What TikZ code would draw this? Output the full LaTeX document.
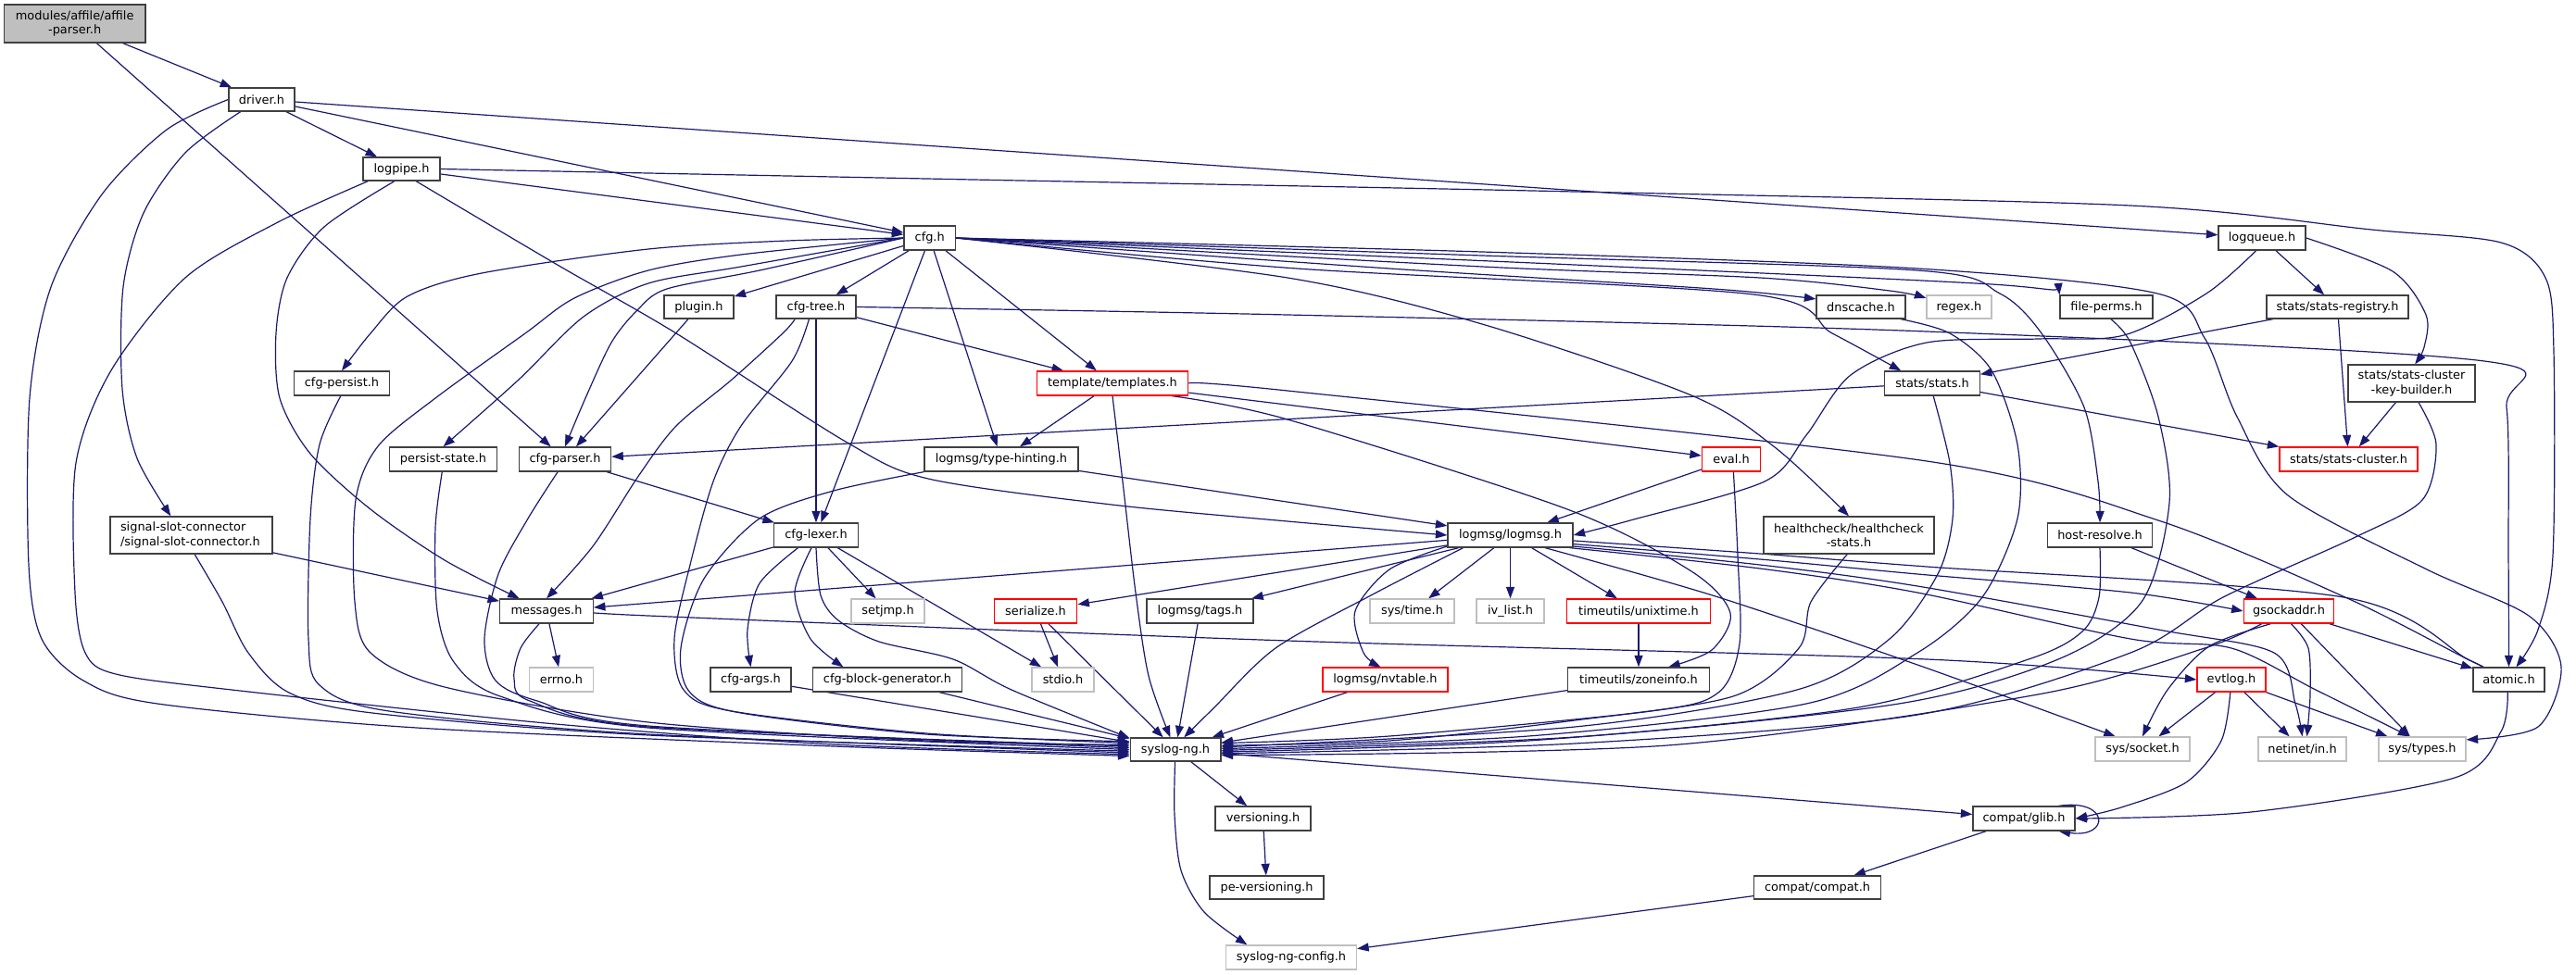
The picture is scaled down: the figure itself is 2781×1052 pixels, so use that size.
\documentclass[tikz,border=0pt]{standalone}
\usepackage{fontspec}
\newfontfamily\nf{DejaVu Sans}
\usetikzlibrary{arrows.meta}
\pgfdeclarelayer{bg}
\pgfsetlayers{bg,main}
\definecolor{edgec}{HTML}{191970}
\definecolor{bdr}{HTML}{404040}
\definecolor{gbdr}{HTML}{BFBFBF}
\definecolor{rbdr}{HTML}{FF0000}
\definecolor{topfill}{HTML}{BFBFBF}
\begin{document}
\begin{tikzpicture}[x=1pt,y=-1pt,
  nb/.style={draw=bdr, fill=white, line width=1.3pt, inner sep=0pt, minimum height=26pt, font=\nf\fontsize{12.9}{15.3}\selectfont},
  ng/.style={nb, draw=gbdr},
  nr/.style={nb, draw=rbdr},
  edg/.style={draw=edgec, line width=1.2pt, -{Triangle[length=12.5pt,width=9pt]}}]
\useasboundingbox (0,0) rectangle (2781,1052);
% ---------------- nodes
\node[nb, fill=topfill, minimum width=152.5pt, minimum height=41pt, align=center] (affile) at (80.7,25.5) {modules/affile/affile\\-parser.h};
\node[nb, minimum width=71pt, minimum height=25pt] (driver) at (282.5,107.5) {driver.h};
\node[nb, minimum width=83pt, minimum height=25pt] (logpipe) at (433.5,182.5) {logpipe.h};
\node[nb, minimum width=55.5pt] (cfg) at (1003.7,257) {cfg.h};
\node[nb, minimum width=94pt] (logqueue) at (2442,257) {logqueue.h};
\node[nb, minimum width=75pt, minimum height=25pt] (plugin) at (754.5,331.5) {plugin.h};
\node[nb, minimum width=86pt, minimum height=25pt] (cfgtree) at (881,331.5) {cfg-tree.h};
\node[nb, minimum width=96pt, minimum height=25pt] (dnscache) at (2009,331.5) {dnscache.h};
\node[ng, minimum width=70pt, minimum height=25pt] (regex) at (2115,331.5) {regex.h};
\node[nb, minimum width=100pt, minimum height=25pt] (fileperms) at (2274,331.5) {file-perms.h};
\node[nb, minimum width=153pt, minimum height=25pt] (statsreg) at (2523.5,331.5) {stats/stats-registry.h};
\node[nb, minimum width=103.5pt] (cfgpersist) at (369,414) {cfg-persist.h};
\node[nr, minimum width=163.5pt] (templates) at (1201,414) {template/templates.h};
\node[nb, minimum width=102.5pt] (stats) at (2086,414) {stats/stats.h};
\node[nb, minimum width=137pt, minimum height=40pt, align=center] (keybuilder) at (2603.5,414) {stats/stats-cluster\\-key-builder.h};
\node[nb, minimum width=116pt] (persist) at (478.5,496) {persist-state.h};
\node[nb, minimum width=99.3pt] (cfgparser) at (610,496) {cfg-parser.h};
\node[nb, minimum width=166pt] (typehint) at (1081,496) {logmsg/type-hinting.h};
\node[nr, minimum width=63pt] (eval) at (1869,496) {eval.h};
\node[nr, minimum width=149pt] (statscluster) at (2535.5,496) {stats/stats-cluster.h};
\node[nb, minimum width=175pt, minimum height=40pt, align=left, text width=153pt] (sigslot) at (206.5,578) {signal-slot-connector\\/signal-slot-connector.h};
\node[nb, minimum width=90.6pt] (cfglexer) at (881,578) {cfg-lexer.h};
\node[nb, minimum width=135pt] (logmsg) at (1630.5,578) {logmsg/logmsg.h};
\node[nb, minimum width=184pt, minimum height=40pt, align=center] (health) at (1996,578) {healthcheck/healthcheck\\-stats.h};
\node[nb, minimum width=113.4pt] (hostres) at (2267,578) {host-resolve.h};
\node[nb, minimum width=100.6pt] (messages) at (590,660) {messages.h};
\node[ng, minimum width=79pt] (setjmp) at (958.5,660) {setjmp.h};
\node[nr, minimum width=89.5pt] (serialize) at (1118,660) {serialize.h};
\node[nb, minimum width=115pt] (tags) at (1295.5,660) {logmsg/tags.h};
\node[ng, minimum width=91pt] (systime) at (1524.5,660) {sys/time.h};
\node[ng, minimum width=73pt] (ivlist) at (1630.5,660) {iv\_list.h};
\node[nr, minimum width=155pt] (unixtime) at (1769,660) {timeutils/unixtime.h};
\node[nr, minimum width=97.6pt] (gsockaddr) at (2471,660) {gsockaddr.h};
\node[ng, minimum width=68.6pt] (errno) at (606,734) {errno.h};
\node[nb, minimum width=87pt] (cfgargs) at (810.5,734) {cfg-args.h};
\node[nb, minimum width=161.5pt] (blockgen) at (958,734) {cfg-block-generator.h};
\node[ng, minimum width=67pt] (stdio) at (1147.5,734) {stdio.h};
\node[nr, minimum width=135pt] (nvtable) at (1495.5,734) {logmsg/nvtable.h};
\node[nb, minimum width=152.6pt] (zoneinfo) at (1769,734) {timeutils/zoneinfo.h};
\node[nr, minimum width=74pt] (evtlog) at (2409,734) {evtlog.h};
\node[nb, minimum width=77pt] (atomic) at (2708.5,734) {atomic.h};
\node[nb, minimum width=97.7pt, minimum height=25pt] (syslogng) at (1269,809.5) {syslog-ng.h};
\node[ng, minimum width=102pt] (syssocket) at (2313,809) {sys/socket.h};
\node[ng, minimum width=95pt] (netinet) at (2485.5,809) {netinet/in.h};
\node[ng, minimum width=94pt] (systypes) at (2615,809) {sys/types.h};
\node[nb, minimum width=103pt] (versioning) at (1363.5,884) {versioning.h};
\node[nb, minimum width=110pt] (glib) at (2185,884) {compat/glib.h};
\node[nb, minimum width=123pt, minimum height=25pt] (peversioning) at (1367.5,958.5) {pe-versioning.h};
\node[nb, minimum width=136.5pt, minimum height=25pt] (compat) at (1962,958.5) {compat/compat.h};
\node[ng, minimum width=141pt] (config) at (1394,1034) {syslog-ng-config.h};
% ---------------- edges
\begin{pgfonlayer}{bg}
% affile
\draw[edg] (affile) -- (driver);
\draw[edg] (affile) -- (cfgparser);
% driver
\draw[edg] (driver) -- (logpipe);
\draw[edg] (driver) -- (cfg);
\draw[edg] (driver) -- (logqueue);
\draw[edg] plot[smooth] coordinates {(driver.-150) (200,165) (155,230) (133,310) (132,420) (148,495) (sigslot.137)};
\draw[edg] plot[smooth] coordinates {(driver.west) (180,140) (110,210) (55,310) (32,430) (31,610) (45,690) (90,735) (170,760) (450,786) (900,806) (syslogng.188)};
% logpipe
\draw[edg] (logpipe) -- (cfg);
\draw[edg] plot[smooth] coordinates {(logpipe.east) (1000,193) (1700,207) (2300,222) (2560,248) (2700,262) (2748,300) (2757,380) (2756,600) (2740,680) (atomic.60)};
\draw[edg] plot[smooth] coordinates {(logpipe.-120) (350,245) (310,300) (298,360) (302,430) (335,490) (400,550) (480,605) (messages.155)};
\draw[edg] plot[smooth] coordinates {(logpipe.-160) (300,240) (200,300) (120,400) (82,500) (81,640) (92,705) (125,728) (250,745) (600,782) (900,804) (syslogng.186)};
\draw[edg] plot[smooth] coordinates {(logpipe.-40) (600,285) (730,360) (913,477) (1002,517) (1200,545) (1390,563) (logmsg.west)};
% cfg
\draw[edg] (cfg) -- (plugin);
\draw[edg] (cfg) -- (cfgtree);
\draw[edg] plot[smooth] coordinates {(cfg.west) (850,260) (700,269) (520,295) (440,320) (400,360) (cfgpersist.north)};
\draw[edg] plot[smooth] coordinates {(cfg.west) (800,275) (700,292) (620,322) (567,360) (470,430) (408,482) (384,540) (383,650) (400,705) (480,742) (700,780) (1000,800) (syslogng.174)};
\draw[edg] plot[smooth] coordinates {(cfg.west) (800,288) (700,306) (630,342) (560,410) (persist.north)};
\draw[edg] plot[smooth] coordinates {(cfg.west) (820,292) (720,312) (688,335) (660,370) (632,430) (cfgparser.north)};
\draw[edg] (cfg) -- (cfglexer);
\draw[edg] (cfg) -- (typehint);
\draw[edg] (cfg) -- (templates);
\draw[edg] plot[smooth] coordinates {(cfg.east) (1390,300) (1600,350) (1826,427) (1916,483) (health.north)};
\draw[edg] plot[smooth] coordinates {(cfg.east) (1400,290) (1893,318) (1978,360) (stats.158)};
\draw[edg] plot[smooth] coordinates {(cfg.east) (1500,290) (1850,312) (dnscache.170)};
\draw[edg] plot[smooth] coordinates {(cfg.east) (1600,288) (1900,300) (2040,314) (regex.165)};
\draw[edg] plot[smooth] coordinates {(cfg.east) (1700,286) (2150,307) (fileperms.north west)};
\draw[edg] plot[smooth] coordinates {(cfg.east) (1600,276) (2070,292) (2159,317) (2204,360) (2250,440) (2265,520) (hostres.north)};
\draw[edg] plot[smooth] coordinates {(cfg.east) (1600,272) (2070,290) (2329,317) (2380,365) (2415,450) (2470,535) (2620,615) (2730,665) (2765,720) (2740,785) (systypes.12)};
% cfg-tree
\draw[edg] (cfgtree) -- (templates);
\draw[edg] plot[smooth] coordinates {(cfgtree.east) (1390,340) (2080,358) (2682,390) (2706,440) (2708,600) (atomic.north)};
\draw[edg] (cfgtree) -- (cfglexer);
\draw[edg] plot[smooth] coordinates {(cfgtree.-150) (845,360) (790,410) (730,460) (690,513) (640,590) (messages.north)};
\draw[edg] plot[smooth] coordinates {(cfgtree.-120) (855,390) (800,460) (770,520) (745,610) (728,690) (738,745) (790,768) (1000,792) (syslogng.172)};
% plugin, persist, parser
\draw[edg] (plugin) -- (cfgparser);
\draw[edg] plot[smooth] coordinates {(cfgpersist.-95) (345,480) (335,560) (333,690) (345,740) (420,768) (700,793) (syslogng.184)};
\draw[edg] plot[smooth] coordinates {(persist.-95) (470,570) (472,660) (490,715) (540,752) (700,786) (syslogng.180)};
\draw[edg] plot[smooth] coordinates {(cfgparser.-120) (570,560) (538,620) (523,690) (535,735) (580,757) (700,784) (syslogng.178)};
\draw[edg] (cfgparser) -- (cfglexer);
% signal-slot
\draw[edg] (sigslot) -- (messages);
\draw[edg] plot[smooth] coordinates {(sigslot.-80) (240,650) (268,705) (312,748) (402,770) (700,794) (syslogng.182)};
% messages
\draw[edg] (messages) -- (errno);
\draw[edg] plot[smooth] coordinates {(messages.-120) (562,700) (555,733) (572,757) (700,785) (syslogng.176)};
\draw[edg] plot[smooth] coordinates {(messages.east) (700,665) (1390,692) (2080,712) (evtlog.west)};
% cfg-lexer
\draw[edg] (cfglexer) -- (messages);
\draw[edg] (cfglexer) -- (setjmp);
\draw[edg] (cfglexer) -- (stdio);
\draw[edg] plot[smooth] coordinates {(cfglexer.-145) (820,630) (807,680) (cfgargs.north)};
\draw[edg] plot[smooth] coordinates {(cfglexer.-110) (858,640) (875,690) (blockgen.164)};
\draw[edg] plot[smooth] coordinates {(cfglexer.-90) (886,643) (905,670) (949,693) (1029,712) (1092,745) (syslogng.166)};
\draw[edg] (cfgargs) -- (syslogng);
\draw[edg] (blockgen) -- (syslogng);
% templates
\draw[edg] (templates) -- (typehint);
\draw[edg] (templates) -- (eval);
\draw[edg] plot[smooth] coordinates {(templates.east) (1390,422) (2080,498) (2330,562) (2534,646) (2664,712) (atomic.150)};
\draw[edg] plot[smooth] coordinates {(templates.-12) (1390,453) (1692,550) (1826,617) (1868,662) (1848,702) (zoneinfo.23)};
\draw[edg] plot[smooth] coordinates {(templates.south) (1212,520) (1226,640) (1240,730) (syslogng.113)};
% type-hinting
\draw[edg] (typehint) -- (logmsg);
\draw[edg] plot[smooth] coordinates {(typehint.south west) (900,530) (820,560) (760,625) (735,700) (745,748) (800,770) (1000,793) (syslogng.170)};
% eval
\draw[edg] (eval) -- (logmsg);
\draw[edg] plot[smooth] coordinates {(eval.-80) (1876,600) (1878,695) (1855,748) (1782,768) (1500,795) (syslogng.8)};
% logmsg
\draw[edg] (logmsg) -- (messages);
\draw[edg] (logmsg) -- (serialize);
\draw[edg] (logmsg) -- (tags);
\draw[edg] plot[smooth] coordinates {(logmsg.-165) (1480,643) (1377,700) (1310,765) (syslogng.55)};
\draw[edg] plot[smooth] coordinates {(logmsg.-170) (1500,615) (1463,660) (1472,705) (nvtable.110)};
\draw[edg] (logmsg) -- (systime);
\draw[edg] (logmsg) -- (ivlist);
\draw[edg] (logmsg) -- (unixtime);
\draw[edg] plot[smooth] coordinates {(logmsg.-20) (1852,644) (2070,718) (syssocket.155)};
\draw[edg] plot[smooth] coordinates {(logmsg.-8) (1900,604) (2070,620) (2300,640) (gsockaddr.west)};
\draw[edg] plot[smooth] coordinates {(logmsg.-5) (1900,598) (2080,612) (2530,645) (2664,712) (atomic.150)};
\draw[edg] plot[smooth] coordinates {(logmsg.-10) (1900,610) (2070,633) (2330,680) (2455,705) (2478,760) (netinet.north)};
\draw[edg] plot[smooth] coordinates {(logmsg.-12) (1900,614) (2070,640) (2300,690) (2409,700) (2500,745) (systypes.135)};
% leaves to syslog-ng
\draw[edg] (serialize) -- (stdio);
\draw[edg] (serialize) -- (syslogng);
\draw[edg] (tags) -- (syslogng);
\draw[edg] (nvtable) -- (syslogng);
\draw[edg] (unixtime) -- (zoneinfo);
\draw[edg] (zoneinfo) -- (syslogng);
\draw[edg] plot[smooth] coordinates {(health.-95) (1955,650) (1942,700) (1871,752) (1700,778) (1500,800) (syslogng.5)};
% stats
\draw[edg] (stats) -- (cfgparser);
\draw[edg] (stats) -- (statscluster);
\draw[edg] plot[smooth] coordinates {(stats.-85) (2105,500) (2108,560) (2092,620) (2040,690) (1940,745) (1700,785) (syslogng.3)};
\draw[edg] plot[smooth] coordinates {(dnscache.-17) (2105,360) (2150,400) (2178,480) (2178,560) (2140,645) (2070,705) (1950,760) (1650,795) (syslogng.1)};
\draw[edg] plot[smooth] coordinates {(fileperms.-70) (2300,370) (2330,450) (2342,543) (2312,650) (2222,712) (2050,760) (1700,796) (syslogng.-1)};
\draw[edg] (hostres) -- (gsockaddr);
\draw[edg] plot[smooth] coordinates {(hostres.south) (2266,645) (2248,682) (2190,712) (2000,765) (1650,800) (syslogng.-3)};
% logqueue
\draw[edg] (logqueue) -- (statsreg);
\draw[edg] plot[smooth] coordinates {(logqueue.east) (2583,293) (2619,340) (2617,375) (keybuilder.80)};
\draw[edg] plot[smooth] coordinates {(logqueue.-115) (2382,317) (2293,362) (2200,366) (2080,370) (1998,405) (1950,470) (1905,520) (1760,562) (logmsg.east)};
\draw[edg] (statsreg) -- (stats);
\draw[edg] (statsreg) -- (statscluster);
\draw[edg] (keybuilder) -- (statscluster);
\draw[edg] plot[smooth] coordinates {(keybuilder.-70) (2630,480) (2615,540) (2543,580) (2400,645) (2300,705) (2070,772) (1700,803) (syslogng.-5)};
% gsockaddr
\draw[edg] plot[smooth] coordinates {(gsockaddr.-155) (2380,700) (2200,750) (1800,805) (syslogng.-7)};
\draw[edg] plot[smooth] coordinates {(gsockaddr.-145) (2385,698) (2340,745) (syssocket.north)};
\draw[edg] plot[smooth] coordinates {(gsockaddr.-80) (2492,700) (2494,750) (netinet.70)};
\draw[edg] (gsockaddr) -- (systypes);
\draw[edg] (gsockaddr) -- (atomic);
% evtlog
\draw[edg] (evtlog) -- (syssocket);
\draw[edg] (evtlog) -- (netinet);
\draw[edg] (evtlog) -- (systypes);
\draw[edg] plot[smooth] coordinates {(evtlog.-95) (2398,800) (2360,845) (2290,872) (glib.east)};
% atomic
\draw[edg] plot[smooth] coordinates {(atomic.-95) (2700,790) (2650,840) (2430,877) (glib.east)};
% syslog-ng
\draw[edg] (syslogng) -- (versioning);
\draw[edg] (syslogng) -- (glib);
\draw[edg] plot[smooth] coordinates {(syslogng.-92) (1268,880) (1275,940) (1300,985) (config.164)};
\draw[edg] (versioning) -- (peversioning);
\draw[edg] (glib.20) .. controls (2278,862) and (2278,906) .. (glib.-20);
\draw[edg] (glib) -- (compat);
\draw[edg] (compat) -- (config);
\end{pgfonlayer}
\end{tikzpicture}
\end{document}
